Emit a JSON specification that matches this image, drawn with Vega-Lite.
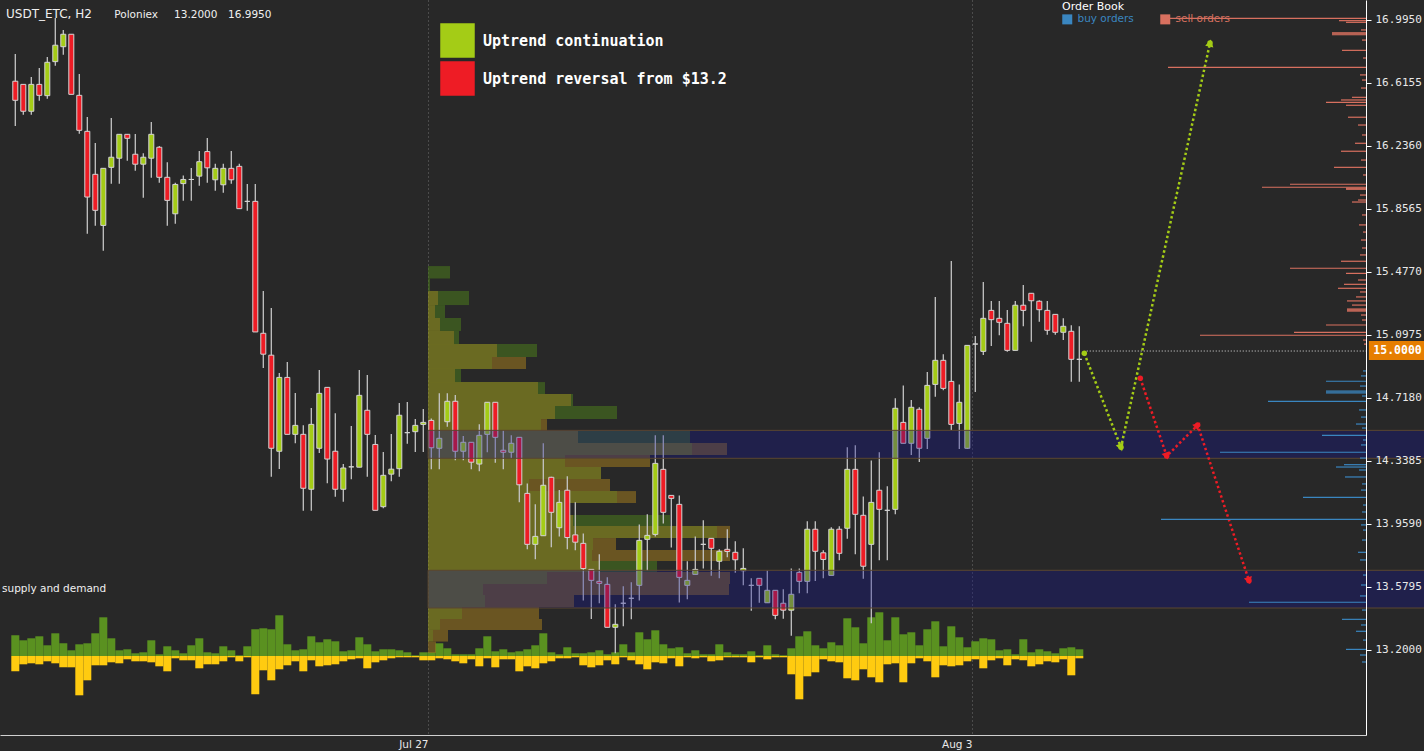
{
"$schema":"https://vega.github.io/schema/vega-lite/v6.json",
"width":1366,"height":735,
"autosize":{"type":"none"},
"padding":{"left":0,"top":0,"right":58,"bottom":16},
"background":"#282828",
"config":{"view":{"stroke":null},"text":{"font":"DejaVu Sans"},"legend":{"padding":0},"scale":{"continuousPadding":0}},
"datasets":{
"candles":[
{"k":0,"o":16.626,"h":16.790,"l":16.356,"c":16.511,"vb":20.7,"vs":15.3},
{"k":1,"o":16.607,"h":16.607,"l":16.424,"c":16.445,"vb":15.7,"vs":8.3},
{"k":2,"o":16.445,"h":16.651,"l":16.424,"c":16.607,"vb":17.7,"vs":7.3},
{"k":3,"o":16.607,"h":16.706,"l":16.509,"c":16.541,"vb":19.7,"vs":8.3},
{"k":4,"o":16.539,"h":16.772,"l":16.521,"c":16.740,"vb":10.7,"vs":5.3},
{"k":5,"o":16.744,"h":17.007,"l":16.720,"c":16.843,"vb":22.7,"vs":7.3},
{"k":6,"o":16.834,"h":16.935,"l":16.786,"c":16.909,"vb":12.7,"vs":11.3},
{"k":7,"o":16.909,"h":16.909,"l":16.547,"c":16.547,"vb":5.7,"vs":11.3},
{"k":8,"o":16.541,"h":16.669,"l":16.310,"c":16.330,"vb":11.7,"vs":39.3},
{"k":9,"o":16.324,"h":16.410,"l":15.707,"c":15.928,"vb":12.7,"vs":24.3},
{"k":10,"o":16.065,"h":16.254,"l":15.755,"c":15.848,"vb":22.7,"vs":9.3},
{"k":11,"o":15.757,"h":16.101,"l":15.605,"c":16.101,"vb":38.7,"vs":9.3},
{"k":12,"o":16.107,"h":16.404,"l":16.008,"c":16.168,"vb":17.7,"vs":6.3},
{"k":13,"o":16.162,"h":16.306,"l":16.008,"c":16.306,"vb":5.7,"vs":7.3},
{"k":14,"o":16.306,"h":16.306,"l":16.147,"c":16.282,"vb":6.7,"vs":3.3},
{"k":15,"o":16.186,"h":16.308,"l":16.087,"c":16.126,"vb":2.7,"vs":5.3},
{"k":16,"o":16.126,"h":16.192,"l":15.924,"c":16.168,"vb":3.7,"vs":5.3},
{"k":17,"o":16.162,"h":16.380,"l":16.045,"c":16.306,"vb":15.7,"vs":6.3},
{"k":18,"o":16.228,"h":16.236,"l":16.014,"c":16.047,"vb":1.7,"vs":10.3},
{"k":19,"o":16.047,"h":16.137,"l":15.755,"c":15.908,"vb":9.7,"vs":15.3},
{"k":20,"o":15.827,"h":16.014,"l":15.767,"c":16.004,"vb":5.7,"vs":2.3},
{"k":21,"o":16.009,"h":16.058,"l":15.906,"c":16.034,"vb":2.7,"vs":4.3},
{"k":22,"o":16.034,"h":16.103,"l":15.906,"c":16.034,"vb":10.7,"vs":4.3},
{"k":23,"o":16.054,"h":16.206,"l":15.996,"c":16.141,"vb":17.7,"vs":12.3},
{"k":24,"o":16.202,"h":16.284,"l":16.014,"c":16.104,"vb":3.7,"vs":8.3},
{"k":25,"o":16.032,"h":16.129,"l":15.966,"c":16.101,"vb":2.7,"vs":8.3},
{"k":26,"o":16.002,"h":16.129,"l":15.954,"c":16.101,"vb":9.7,"vs":5.3},
{"k":27,"o":16.101,"h":16.206,"l":16.008,"c":16.032,"vb":5.7,"vs":1.3},
{"k":28,"o":16.113,"h":16.129,"l":15.858,"c":15.858,"vb":0.7,"vs":5.3},
{"k":29,"o":15.902,"h":16.006,"l":15.845,"c":15.902,"vb":9.7,"vs":1.3},
{"k":30,"o":15.902,"h":16.006,"l":15.115,"c":15.115,"vb":26.7,"vs":38.3},
{"k":31,"o":15.107,"h":15.362,"l":14.898,"c":14.981,"vb":27.7,"vs":14.3},
{"k":32,"o":14.975,"h":15.259,"l":14.243,"c":14.414,"vb":26.7,"vs":24.3},
{"k":33,"o":14.396,"h":14.867,"l":14.289,"c":14.841,"vb":40.7,"vs":13.3},
{"k":34,"o":14.841,"h":14.934,"l":14.498,"c":14.498,"vb":11.7,"vs":9.3},
{"k":35,"o":14.498,"h":14.747,"l":14.444,"c":14.552,"vb":5.7,"vs":5.3},
{"k":36,"o":14.498,"h":14.552,"l":14.038,"c":14.173,"vb":6.7,"vs":15.3},
{"k":37,"o":14.167,"h":14.657,"l":14.038,"c":14.558,"vb":19.7,"vs":4.3},
{"k":38,"o":14.414,"h":14.885,"l":14.385,"c":14.745,"vb":13.7,"vs":10.3},
{"k":39,"o":14.781,"h":14.781,"l":14.203,"c":14.349,"vb":16.7,"vs":9.3},
{"k":40,"o":14.396,"h":14.625,"l":14.122,"c":14.167,"vb":14.7,"vs":8.3},
{"k":41,"o":14.167,"h":14.319,"l":14.092,"c":14.295,"vb":4.7,"vs":5.3},
{"k":42,"o":14.302,"h":14.548,"l":14.227,"c":14.302,"vb":5.7,"vs":3.3},
{"k":43,"o":14.300,"h":14.885,"l":14.300,"c":14.733,"vb":18.7,"vs":2.3},
{"k":44,"o":14.643,"h":14.855,"l":14.243,"c":14.498,"vb":11.7,"vs":12.3},
{"k":45,"o":14.437,"h":14.494,"l":14.040,"c":14.040,"vb":4.7,"vs":6.3},
{"k":46,"o":14.062,"h":14.391,"l":14.052,"c":14.251,"vb":6.7,"vs":4.3},
{"k":47,"o":14.258,"h":14.500,"l":14.215,"c":14.288,"vb":6.7,"vs":2.3},
{"k":48,"o":14.291,"h":14.687,"l":14.243,"c":14.613,"vb":5.7,"vs":1.3},
{"k":49,"o":14.508,"h":14.693,"l":14.441,"c":14.508,"vb":3.7,"vs":1.3},
{"k":50,"o":14.514,"h":14.590,"l":14.391,"c":14.552,"vb":0.7,"vs":1.3},
{"k":51,"o":14.558,"h":14.651,"l":14.391,"c":14.570,"vb":3.7,"vs":4.3},
{"k":52,"o":14.582,"h":14.594,"l":14.288,"c":14.417,"vb":3.7,"vs":4.3},
{"k":53,"o":14.414,"h":14.745,"l":14.288,"c":14.474,"vb":12.7,"vs":2.3},
{"k":54,"o":14.574,"h":14.745,"l":14.544,"c":14.697,"vb":7.7,"vs":3.3},
{"k":55,"o":14.697,"h":14.735,"l":14.342,"c":14.396,"vb":1.7,"vs":5.3},
{"k":56,"o":14.396,"h":14.488,"l":14.342,"c":14.450,"vb":1.7,"vs":7.3},
{"k":57,"o":14.450,"h":14.450,"l":14.288,"c":14.330,"vb":1.7,"vs":3.3},
{"k":58,"o":14.319,"h":14.558,"l":14.276,"c":14.492,"vb":7.7,"vs":10.3},
{"k":59,"o":14.498,"h":14.691,"l":14.390,"c":14.691,"vb":19.7,"vs":2.3},
{"k":60,"o":14.691,"h":14.691,"l":14.327,"c":14.480,"vb":4.7,"vs":11.3},
{"k":61,"o":14.402,"h":14.522,"l":14.288,"c":14.390,"vb":6.7,"vs":3.3},
{"k":62,"o":14.390,"h":14.492,"l":14.354,"c":14.444,"vb":3.7,"vs":3.3},
{"k":63,"o":14.480,"h":14.480,"l":14.088,"c":14.194,"vb":4.7,"vs":15.3},
{"k":64,"o":14.142,"h":14.201,"l":13.805,"c":13.835,"vb":6.7,"vs":10.3},
{"k":65,"o":13.835,"h":14.076,"l":13.745,"c":13.883,"vb":10.7,"vs":12.3},
{"k":66,"o":13.887,"h":14.444,"l":13.887,"c":14.191,"vb":22.7,"vs":7.3},
{"k":67,"o":14.239,"h":14.243,"l":13.818,"c":14.028,"vb":3.7,"vs":5.3},
{"k":68,"o":13.935,"h":14.162,"l":13.883,"c":14.088,"vb":1.7,"vs":2.3},
{"k":69,"o":14.161,"h":14.246,"l":13.805,"c":13.876,"vb":8.7,"vs":2.3},
{"k":70,"o":13.892,"h":14.089,"l":13.800,"c":13.848,"vb":2.7,"vs":1.3},
{"k":71,"o":13.841,"h":13.901,"l":13.496,"c":13.689,"vb":2.7,"vs":9.3},
{"k":72,"o":13.684,"h":13.684,"l":13.385,"c":13.618,"vb":3.7,"vs":11.3},
{"k":73,"o":13.612,"h":13.775,"l":13.480,"c":13.600,"vb":5.7,"vs":9.3},
{"k":74,"o":13.594,"h":13.636,"l":13.335,"c":13.335,"vb":1.7,"vs":4.3},
{"k":75,"o":13.335,"h":13.474,"l":13.178,"c":13.353,"vb":3.7,"vs":8.3},
{"k":76,"o":13.480,"h":13.582,"l":13.341,"c":13.480,"vb":11.7,"vs":1.3},
{"k":77,"o":13.510,"h":13.606,"l":13.383,"c":13.510,"vb":3.7,"vs":4.3},
{"k":78,"o":13.588,"h":13.955,"l":13.497,"c":13.859,"vb":23.7,"vs":8.3},
{"k":79,"o":13.865,"h":14.016,"l":13.678,"c":13.889,"vb":16.7,"vs":13.3},
{"k":80,"o":13.895,"h":14.492,"l":13.883,"c":14.323,"vb":25.7,"vs":6.3},
{"k":81,"o":14.287,"h":14.492,"l":13.961,"c":14.028,"vb":11.7,"vs":7.3},
{"k":82,"o":14.130,"h":14.130,"l":13.816,"c":14.112,"vb":7.7,"vs":2.3},
{"k":83,"o":14.076,"h":14.130,"l":13.485,"c":13.636,"vb":8.7,"vs":10.3},
{"k":84,"o":13.588,"h":13.733,"l":13.504,"c":13.618,"vb":2.7,"vs":1.3},
{"k":85,"o":13.654,"h":13.883,"l":13.654,"c":13.684,"vb":5.7,"vs":2.3},
{"k":86,"o":13.835,"h":13.980,"l":13.690,"c":13.835,"vb":1.7,"vs":1.3},
{"k":87,"o":13.871,"h":13.871,"l":13.646,"c":13.811,"vb":1.7,"vs":5.3},
{"k":88,"o":13.733,"h":13.805,"l":13.630,"c":13.793,"vb":11.7,"vs":4.3},
{"k":89,"o":13.805,"h":13.926,"l":13.757,"c":13.792,"vb":3.7,"vs":1.3},
{"k":90,"o":13.787,"h":13.853,"l":13.664,"c":13.742,"vb":1.7,"vs":1.3},
{"k":91,"o":13.676,"h":13.811,"l":13.588,"c":13.690,"vb":1.7,"vs":1.3},
{"k":92,"o":13.588,"h":13.630,"l":13.435,"c":13.588,"vb":4.7,"vs":6.3},
{"k":93,"o":13.630,"h":13.630,"l":13.483,"c":13.588,"vb":0.7,"vs":1.3},
{"k":94,"o":13.483,"h":13.678,"l":13.483,"c":13.558,"vb":10.7,"vs":3.3},
{"k":95,"o":13.558,"h":13.558,"l":13.383,"c":13.407,"vb":1.7,"vs":1.3},
{"k":96,"o":13.480,"h":13.564,"l":13.387,"c":13.438,"vb":0.7,"vs":1.3},
{"k":97,"o":13.438,"h":13.690,"l":13.284,"c":13.534,"vb":7.7,"vs":18.3},
{"k":98,"o":13.666,"h":13.690,"l":13.540,"c":13.612,"vb":19.7,"vs":43.3},
{"k":99,"o":13.612,"h":13.974,"l":13.540,"c":13.926,"vb":24.7,"vs":20.3},
{"k":100,"o":13.926,"h":13.974,"l":13.614,"c":13.793,"vb":10.7,"vs":16.3},
{"k":101,"o":13.784,"h":13.799,"l":13.630,"c":13.744,"vb":7.7,"vs":3.3},
{"k":102,"o":13.648,"h":13.938,"l":13.648,"c":13.926,"vb":13.7,"vs":5.3},
{"k":103,"o":13.926,"h":13.944,"l":13.739,"c":13.781,"vb":10.7,"vs":6.3},
{"k":104,"o":13.932,"h":14.420,"l":13.869,"c":14.287,"vb":37.7,"vs":22.3},
{"k":105,"o":14.287,"h":14.432,"l":13.775,"c":14.016,"vb":28.7,"vs":24.3},
{"k":106,"o":14.010,"h":14.124,"l":13.628,"c":13.703,"vb":12.7,"vs":13.3},
{"k":107,"o":13.835,"h":14.341,"l":13.359,"c":14.088,"vb":38.7,"vs":21.3},
{"k":108,"o":14.161,"h":14.390,"l":13.739,"c":14.046,"vb":43.7,"vs":26.3},
{"k":109,"o":14.040,"h":14.185,"l":13.739,"c":14.040,"vb":15.7,"vs":8.3},
{"k":110,"o":14.046,"h":14.715,"l":14.016,"c":14.655,"vb":38.7,"vs":7.3},
{"k":111,"o":14.570,"h":14.793,"l":14.444,"c":14.444,"vb":21.7,"vs":26.3},
{"k":112,"o":14.444,"h":14.705,"l":14.373,"c":14.661,"vb":23.7,"vs":7.3},
{"k":113,"o":14.649,"h":14.661,"l":14.331,"c":14.414,"vb":10.7,"vs":2.3},
{"k":114,"o":14.474,"h":14.873,"l":14.409,"c":14.793,"vb":26.7,"vs":5.3},
{"k":115,"o":14.799,"h":15.326,"l":14.724,"c":14.944,"vb":34.7,"vs":21.3},
{"k":116,"o":14.944,"h":14.980,"l":14.763,"c":14.775,"vb":9.7,"vs":9.3},
{"k":117,"o":14.817,"h":15.543,"l":14.524,"c":14.558,"vb":29.7,"vs":10.3},
{"k":118,"o":14.564,"h":14.799,"l":14.409,"c":14.691,"vb":18.7,"vs":9.3},
{"k":119,"o":14.414,"h":15.034,"l":14.409,"c":15.034,"vb":8.7,"vs":5.3},
{"k":120,"o":15.042,"h":15.090,"l":14.753,"c":15.042,"vb":14.7,"vs":3.3},
{"k":121,"o":14.998,"h":15.416,"l":14.976,"c":15.197,"vb":17.7,"vs":12.3},
{"k":122,"o":15.245,"h":15.301,"l":15.030,"c":15.189,"vb":16.7,"vs":4.3},
{"k":123,"o":15.197,"h":15.301,"l":15.095,"c":15.173,"vb":5.7,"vs":2.3},
{"k":124,"o":15.167,"h":15.247,"l":14.996,"c":15.004,"vb":6.7,"vs":9.3},
{"k":125,"o":15.004,"h":15.301,"l":15.004,"c":15.276,"vb":1.7,"vs":3.3},
{"k":126,"o":15.276,"h":15.398,"l":15.149,"c":15.245,"vb":16.7,"vs":4.3},
{"k":127,"o":15.348,"h":15.348,"l":15.056,"c":15.303,"vb":3.7,"vs":10.3},
{"k":128,"o":15.300,"h":15.306,"l":15.177,"c":15.249,"vb":6.7,"vs":8.3},
{"k":129,"o":15.245,"h":15.301,"l":15.098,"c":15.125,"vb":4.7,"vs":5.3},
{"k":130,"o":15.221,"h":15.221,"l":15.098,"c":15.113,"vb":2.7,"vs":6.3},
{"k":131,"o":15.113,"h":15.197,"l":15.066,"c":15.149,"vb":7.7,"vs":3.3},
{"k":132,"o":15.119,"h":15.155,"l":14.815,"c":14.950,"vb":8.7,"vs":19.3},
{"k":133,"o":14.950,"h":15.149,"l":14.815,"c":14.950,"vb":6.7,"vs":2.3}
],
"profile":[
{"lo":15.437,"hi":15.512,"up":0,"tot":22,"kind":"g"},
{"lo":15.362,"hi":15.437,"up":0,"tot":2,"kind":"g"},
{"lo":15.277,"hi":15.362,"up":10,"tot":41,"kind":"g"},
{"lo":15.199,"hi":15.277,"up":7,"tot":17,"kind":"g"},
{"lo":15.121,"hi":15.199,"up":12,"tot":33,"kind":"g"},
{"lo":15.042,"hi":15.121,"up":26,"tot":31,"kind":"g"},
{"lo":14.964,"hi":15.042,"up":69,"tot":109,"kind":"g"},
{"lo":14.892,"hi":14.964,"up":64,"tot":98,"kind":"b"},
{"lo":14.813,"hi":14.892,"up":27,"tot":33,"kind":"g"},
{"lo":14.741,"hi":14.813,"up":110,"tot":117,"kind":"g"},
{"lo":14.669,"hi":14.741,"up":143,"tot":145,"kind":"g"},
{"lo":14.590,"hi":14.669,"up":127,"tot":189,"kind":"g"},
{"lo":14.518,"hi":14.590,"up":113,"tot":119,"kind":"b"},
{"lo":14.446,"hi":14.518,"up":150,"tot":262,"kind":"g"},
{"lo":14.373,"hi":14.446,"up":264,"tot":299,"kind":"b"},
{"lo":14.301,"hi":14.373,"up":137,"tot":222,"kind":"b"},
{"lo":14.229,"hi":14.301,"up":173,"tot":173,"kind":"b"},
{"lo":14.156,"hi":14.229,"up":101,"tot":182,"kind":"b"},
{"lo":14.084,"hi":14.156,"up":189,"tot":208,"kind":"b"},
{"lo":14.012,"hi":14.084,"up":140,"tot":140,"kind":"g"},
{"lo":13.946,"hi":14.012,"up":145,"tot":242,"kind":"g"},
{"lo":13.873,"hi":13.946,"up":289,"tot":302,"kind":"b"},
{"lo":13.801,"hi":13.873,"up":165,"tot":188,"kind":"b"},
{"lo":13.735,"hi":13.801,"up":164,"tot":302,"kind":"b"},
{"lo":13.668,"hi":13.735,"up":172,"tot":229,"kind":"g"},
{"lo":13.596,"hi":13.668,"up":119,"tot":302,"kind":"b"},
{"lo":13.530,"hi":13.596,"up":55,"tot":301,"kind":"b"},
{"lo":13.457,"hi":13.530,"up":57,"tot":146,"kind":"b"},
{"lo":13.385,"hi":13.457,"up":34,"tot":111,"kind":"b"},
{"lo":13.319,"hi":13.385,"up":12,"tot":114,"kind":"b"},
{"lo":13.249,"hi":13.319,"up":5,"tot":20,"kind":"b"},
{"lo":13.180,"hi":13.249,"up":0,"tot":8,"kind":"b"}
],
"zones":[{"lo":14.3535,"hi":14.522},{"lo":13.4513,"hi":13.6785}],
"paths":[
{"scenario":"Uptrend continuation","step":0,"k":133.625,"p":14.986},
{"scenario":"Uptrend continuation","step":1,"k":138.21,"p":14.420},
{"scenario":"Uptrend continuation","step":2,"k":149.34,"p":16.856},
{"scenario":"Uptrend reversal from $13.2","step":0,"k":140.625,"p":14.836},
{"scenario":"Uptrend reversal from $13.2","step":1,"k":143.925,"p":14.367},
{"scenario":"Uptrend reversal from $13.2","step":2,"k":147.8,"p":14.554},
{"scenario":"Uptrend reversal from $13.2","step":3,"k":154.21,"p":13.616}
],
"book":[
{"side":"sell orders","price":17.005,"amount":203},{"side":"sell orders","price":16.991,"amount":27},{"side":"sell orders","price":16.981,"amount":20},
{"side":"sell orders","price":16.918,"amount":34},{"side":"sell orders","price":16.912,"amount":34},{"side":"sell orders","price":16.906,"amount":34},
{"side":"sell orders","price":16.812,"amount":24},{"side":"sell orders","price":16.710,"amount":198},{"side":"sell orders","price":16.529,"amount":14},
{"side":"sell orders","price":16.513,"amount":25},{"side":"sell orders","price":16.499,"amount":40},{"side":"sell orders","price":16.481,"amount":20},
{"side":"sell orders","price":16.409,"amount":18},{"side":"sell orders","price":16.252,"amount":11},{"side":"sell orders","price":16.204,"amount":25},
{"side":"sell orders","price":16.107,"amount":32},{"side":"sell orders","price":16.005,"amount":76},{"side":"sell orders","price":15.987,"amount":104},
{"side":"sell orders","price":15.981,"amount":20},{"side":"sell orders","price":15.975,"amount":20},{"side":"sell orders","price":15.898,"amount":14},
{"side":"sell orders","price":15.541,"amount":25},{"side":"sell orders","price":15.499,"amount":76},{"side":"sell orders","price":15.468,"amount":20},
{"side":"sell orders","price":15.402,"amount":22},{"side":"sell orders","price":15.378,"amount":28},{"side":"sell orders","price":15.302,"amount":19},
{"side":"sell orders","price":15.253,"amount":19},{"side":"sell orders","price":15.247,"amount":19},{"side":"sell orders","price":15.241,"amount":19},
{"side":"sell orders","price":15.157,"amount":40},{"side":"sell orders","price":15.113,"amount":72},{"side":"sell orders","price":15.095,"amount":166},
{"side":"sell orders","price":16.935,"amount":5},{"side":"sell orders","price":16.874,"amount":4},{"side":"sell orders","price":16.766,"amount":3},
{"side":"sell orders","price":16.664,"amount":6},{"side":"sell orders","price":16.633,"amount":4},{"side":"sell orders","price":16.585,"amount":5},
{"side":"sell orders","price":16.362,"amount":8},{"side":"sell orders","price":16.302,"amount":4},{"side":"sell orders","price":16.151,"amount":5},
{"side":"sell orders","price":16.061,"amount":3},{"side":"sell orders","price":15.940,"amount":6},{"side":"sell orders","price":15.910,"amount":8},
{"side":"sell orders","price":15.820,"amount":4},{"side":"sell orders","price":15.760,"amount":7},{"side":"sell orders","price":15.717,"amount":3},
{"side":"sell orders","price":15.669,"amount":5},{"side":"sell orders","price":15.621,"amount":4},{"side":"sell orders","price":15.579,"amount":6},
{"side":"sell orders","price":15.428,"amount":8},{"side":"sell orders","price":15.356,"amount":6},{"side":"sell orders","price":15.326,"amount":10},
{"side":"sell orders","price":15.277,"amount":14},{"side":"sell orders","price":15.217,"amount":5},{"side":"sell orders","price":15.187,"amount":4},
{"side":"sell orders","price":15.066,"amount":3},{"side":"sell orders","price":15.042,"amount":2},
{"side":"buy orders","price":14.818,"amount":40},{"side":"buy orders","price":14.759,"amount":40},{"side":"buy orders","price":14.753,"amount":40},
{"side":"buy orders","price":14.747,"amount":40},{"side":"buy orders","price":14.697,"amount":98},{"side":"buy orders","price":14.492,"amount":44},
{"side":"buy orders","price":14.390,"amount":146},{"side":"buy orders","price":14.315,"amount":22},{"side":"buy orders","price":14.301,"amount":30},
{"side":"buy orders","price":14.241,"amount":21},{"side":"buy orders","price":14.118,"amount":63},{"side":"buy orders","price":13.986,"amount":205},
{"side":"buy orders","price":13.787,"amount":8},{"side":"buy orders","price":13.486,"amount":117},{"side":"buy orders","price":13.383,"amount":24},
{"side":"buy orders","price":13.311,"amount":10},{"side":"buy orders","price":13.202,"amount":20},
{"side":"buy orders","price":14.880,"amount":3},{"side":"buy orders","price":14.850,"amount":5},{"side":"buy orders","price":14.789,"amount":6},
{"side":"buy orders","price":14.729,"amount":4},{"side":"buy orders","price":14.645,"amount":7},{"side":"buy orders","price":14.602,"amount":5},
{"side":"buy orders","price":14.560,"amount":10},{"side":"buy orders","price":14.536,"amount":4},{"side":"buy orders","price":14.464,"amount":3},
{"side":"buy orders","price":14.434,"amount":5},{"side":"buy orders","price":14.355,"amount":6},{"side":"buy orders","price":14.283,"amount":7},
{"side":"buy orders","price":14.199,"amount":4},{"side":"buy orders","price":14.162,"amount":5},{"side":"buy orders","price":14.072,"amount":3},
{"side":"buy orders","price":14.030,"amount":4},{"side":"buy orders","price":13.952,"amount":5},{"side":"buy orders","price":13.921,"amount":3},
{"side":"buy orders","price":13.861,"amount":4},{"side":"buy orders","price":13.741,"amount":6},{"side":"buy orders","price":13.650,"amount":3},
{"side":"buy orders","price":13.590,"amount":5},{"side":"buy orders","price":13.524,"amount":6},{"side":"buy orders","price":13.439,"amount":4},
{"side":"buy orders","price":13.349,"amount":5},{"side":"buy orders","price":13.258,"amount":3},{"side":"buy orders","price":13.168,"amount":6},
{"side":"buy orders","price":13.126,"amount":4}
]
},
"layer":[
{"data":{"name":"candles"},
 "mark":{"type":"bar","width":8,"color":"#5a9120","orient":"vertical"},
 "encoding":{
  "x":{"field":"k","type":"quantitative","scale":{"domain":[-1.9125,168.8375],"nice":false,"zero":false,"padding":0},"axis":null},
  "y":{"field":"vb","type":"quantitative","scale":{"domain":[-79,656],"nice":false,"zero":false,"padding":0},"axis":null},
  "y2":{"datum":0}}},
{"data":{"name":"candles"},
 "mark":{"type":"bar","width":8,"color":"#ffcb10","orient":"vertical"},
 "encoding":{
  "x":{"field":"k","type":"quantitative","scale":{"domain":[-1.9125,168.8375],"nice":false,"zero":false,"padding":0},"axis":null},
  "y":{"field":"vs","type":"quantitative","scale":{"domain":[-656,79],"reverse":true,"nice":false,"zero":false,"padding":0},"axis":null},
  "y2":{"datum":0}}},
{"data":{"name":"profile"},
 "layer":[
  {"mark":{"type":"rect","fill":"#a0a01e","fillOpacity":0.55},
   "encoding":{
    "x":{"field":"up","type":"quantitative","scale":{"domain":[-428,938],"nice":false,"zero":false,"padding":0},"axis":null},
    "x2":{"datum":0},
    "y":{"field":"lo","type":"quantitative","scale":{"domain":[12.686,17.1155],"nice":false,"zero":false,"padding":0},"axis":null},
    "y2":{"field":"hi"}}},
  {"mark":{"type":"rect","fillOpacity":0.55},
   "encoding":{
    "x":{"field":"up","type":"quantitative","scale":{"domain":[-428,938],"nice":false,"zero":false,"padding":0},"axis":null},
    "x2":{"field":"tot"},
    "y":{"field":"lo","type":"quantitative","scale":{"domain":[12.686,17.1155],"nice":false,"zero":false,"padding":0},"axis":null},
    "y2":{"field":"hi"},
    "fill":{"condition":{"test":"datum.kind == 'g'","value":"#4a7a1c"},"value":"#a07a1e"}}}
 ]},
{"layer":[
  {"data":{"name":"candles"},
   "mark":{"type":"rule","color":"#c4c4c4","strokeWidth":1.3},
   "encoding":{
    "x":{"field":"k","type":"quantitative","scale":{"domain":[-1.9125,168.8375],"nice":false,"zero":false,"padding":0},
      "axis":{"orient":"bottom","values":[51.5875,119.5875],"labelExpr":"datum.value < 80 ? 'Jul 27' : 'Aug 3'","title":null,"grid":true,"gridColor":"#707070","gridDash":[1,3],"gridWidth":1,"domain":true,"domainColor":"#d0d0d0","ticks":false,"labelAlign":"right","labelColor":"#e8e8e8","labelFont":"DejaVu Sans","labelFontSize":10.5,"labelPadding":4}},
    "y":{"field":"l","type":"quantitative","scale":{"domain":[12.686,17.1155],"nice":false,"zero":false,"padding":0},
      "axis":{"orient":"right","values":[13.2,13.5795,13.959,14.3385,14.718,15.0975,15.477,15.8565,16.236,16.6155,16.995],"format":".4f","title":null,"grid":false,"domainColor":"#ffffff","domainWidth":1,"tickColor":"#ffffff","tickSize":5,"labelColor":"#e8e8e8","labelFont":"DejaVu Sans Mono","labelFontSize":11,"labelPadding":4,"labelOverlap":false,"labelFlush":false,"zindex":1}},
    "y2":{"field":"h"}}},
  {"data":{"name":"candles"},
   "mark":{"type":"bar","width":5,"stroke":"#d4d4d4","strokeWidth":1,"orient":"vertical"},
   "encoding":{
    "x":{"field":"k","type":"quantitative","scale":{"domain":[-1.9125,168.8375],"nice":false,"zero":false,"padding":0}},
    "y":{"field":"o","type":"quantitative","scale":{"domain":[12.686,17.1155],"nice":false,"zero":false,"padding":0}},
    "y2":{"field":"c"},
    "fill":{"condition":{"test":"datum.c >= datum.o","value":"#a4cc16"},"value":"#ee1c25"}}},
  {"data":{"name":"zones"},
   "mark":{"type":"rect","fill":"#0f0f96","fillOpacity":0.32,"stroke":"#5a4630","strokeWidth":1},
   "encoding":{
    "x":{"datum":51.6,"type":"quantitative","scale":{"domain":[-1.9125,168.8375],"nice":false,"zero":false,"padding":0}},
    "x2":{"datum":176.2},
    "y":{"field":"lo","type":"quantitative","scale":{"domain":[12.686,17.1155],"nice":false,"zero":false,"padding":0}},
    "y2":{"field":"hi"}}},
  {"data":{"values":[{}]},
   "mark":{"type":"rule","color":"#e0e0e0","strokeDash":[1,2],"strokeWidth":1},
   "encoding":{
    "x":{"datum":133.93,"type":"quantitative","scale":{"domain":[-1.9125,168.8375],"nice":false,"zero":false,"padding":0}},
    "x2":{"datum":168.84},
    "y":{"datum":15.0,"type":"quantitative","scale":{"domain":[12.686,17.1155],"nice":false,"zero":false,"padding":0}}}},
  {"data":{"name":"paths"},
   "mark":{"type":"line","strokeDash":[2.5,2.5],"strokeWidth":2.5},
   "encoding":{
    "x":{"field":"k","type":"quantitative","scale":{"domain":[-1.9125,168.8375],"nice":false,"zero":false,"padding":0}},
    "y":{"field":"p","type":"quantitative","scale":{"domain":[12.686,17.1155],"nice":false,"zero":false,"padding":0}},
    "order":{"field":"step","type":"quantitative"},
    "detail":{"field":"scenario","type":"nominal"},
    "stroke":{"condition":{"test":"datum.scenario == 'Uptrend continuation'","value":"#a4cc16"},"value":"#ee1c25"}}},
  {"data":{"name":"paths"},
   "mark":{"type":"point","filled":true,"opacity":1,"size":30,"shape":"circle"},
   "encoding":{
    "x":{"field":"k","type":"quantitative","scale":{"domain":[-1.9125,168.8375],"nice":false,"zero":false,"padding":0}},
    "y":{"field":"p","type":"quantitative","scale":{"domain":[12.686,17.1155],"nice":false,"zero":false,"padding":0}},
    "fill":{"field":"scenario","type":"nominal","scale":{"domain":["Uptrend continuation","Uptrend reversal from $13.2"],"range":["#a4cc16","#ee1c25"]},
      "legend":{"title":null,"orient":"none","legendX":440,"legendY":23,"symbolType":"square","symbolSize":1190,"symbolStrokeWidth":0,"symbolOpacity":1,"labelFont":"DejaVu Sans Mono","labelFontWeight":"bold","labelFontSize":15,"labelColor":"#ffffff","labelOffset":8,"rowPadding":3,"labelLimit":400}}}},
  {"data":{"name":"paths"},
   "transform":[{"filter":"datum.step == 1 && datum.scenario == 'Uptrend continuation'"}],
   "mark":{"type":"point","shape":"triangle-up","filled":true,"opacity":1,"size":70,"angle":158,"color":"#a4cc16"},
   "encoding":{"x":{"field":"k","type":"quantitative","scale":{"domain":[-1.9125,168.8375],"nice":false,"zero":false,"padding":0}},"y":{"field":"p","type":"quantitative","scale":{"domain":[12.686,17.1155],"nice":false,"zero":false,"padding":0}}}},
  {"data":{"name":"paths"},
   "transform":[{"filter":"datum.step == 2 && datum.scenario == 'Uptrend continuation'"}],
   "mark":{"type":"point","shape":"triangle-up","filled":true,"opacity":1,"size":70,"angle":12,"color":"#a4cc16"},
   "encoding":{"x":{"field":"k","type":"quantitative","scale":{"domain":[-1.9125,168.8375],"nice":false,"zero":false,"padding":0}},"y":{"field":"p","type":"quantitative","scale":{"domain":[12.686,17.1155],"nice":false,"zero":false,"padding":0}}}},
  {"data":{"name":"paths"},
   "transform":[{"filter":"datum.step == 1 && datum.scenario != 'Uptrend continuation'"}],
   "mark":{"type":"point","shape":"triangle-up","filled":true,"opacity":1,"size":70,"angle":161,"color":"#ee1c25"},
   "encoding":{"x":{"field":"k","type":"quantitative","scale":{"domain":[-1.9125,168.8375],"nice":false,"zero":false,"padding":0}},"y":{"field":"p","type":"quantitative","scale":{"domain":[12.686,17.1155],"nice":false,"zero":false,"padding":0}}}},
  {"data":{"name":"paths"},
   "transform":[{"filter":"datum.step == 2 && datum.scenario != 'Uptrend continuation'"}],
   "mark":{"type":"point","shape":"triangle-up","filled":true,"opacity":1,"size":70,"angle":45,"color":"#ee1c25"},
   "encoding":{"x":{"field":"k","type":"quantitative","scale":{"domain":[-1.9125,168.8375],"nice":false,"zero":false,"padding":0}},"y":{"field":"p","type":"quantitative","scale":{"domain":[12.686,17.1155],"nice":false,"zero":false,"padding":0}}}},
  {"data":{"name":"paths"},
   "transform":[{"filter":"datum.step == 3 && datum.scenario != 'Uptrend continuation'"}],
   "mark":{"type":"point","shape":"triangle-up","filled":true,"opacity":1,"size":70,"angle":162,"color":"#ee1c25"},
   "encoding":{"x":{"field":"k","type":"quantitative","scale":{"domain":[-1.9125,168.8375],"nice":false,"zero":false,"padding":0}},"y":{"field":"p","type":"quantitative","scale":{"domain":[12.686,17.1155],"nice":false,"zero":false,"padding":0}}}},
  {"data":{"values":[{}]},
   "mark":{"type":"text","align":"left","baseline":"alphabetic","fontSize":12,"color":"#f0f0f0","font":"DejaVu Sans"},
   "encoding":{"x":{"datum":-1.1625,"type":"quantitative","scale":{"domain":[-1.9125,168.8375],"nice":false,"zero":false,"padding":0}},"y":{"datum":17.005,"type":"quantitative","scale":{"domain":[12.686,17.1155],"nice":false,"zero":false,"padding":0}},"text":{"value":"USDT_ETC, H2"}}},
  {"data":{"values":[{}]},
   "mark":{"type":"text","align":"left","baseline":"alphabetic","fontSize":10.5,"color":"#f0f0f0","font":"DejaVu Sans"},
   "encoding":{"x":{"datum":12.375,"type":"quantitative","scale":{"domain":[-1.9125,168.8375],"nice":false,"zero":false,"padding":0}},"y":{"datum":17.008,"type":"quantitative","scale":{"domain":[12.686,17.1155],"nice":false,"zero":false,"padding":0}},"text":{"value":"Poloniex"}}},
  {"data":{"values":[{}]},
   "mark":{"type":"text","align":"left","baseline":"alphabetic","fontSize":10.5,"color":"#f0f0f0","font":"DejaVu Sans"},
   "encoding":{"x":{"datum":19.84,"type":"quantitative","scale":{"domain":[-1.9125,168.8375],"nice":false,"zero":false,"padding":0}},"y":{"datum":17.008,"type":"quantitative","scale":{"domain":[12.686,17.1155],"nice":false,"zero":false,"padding":0}},"text":{"value":"13.2000"}}},
  {"data":{"values":[{}]},
   "mark":{"type":"text","align":"left","baseline":"alphabetic","fontSize":10.5,"color":"#f0f0f0","font":"DejaVu Sans"},
   "encoding":{"x":{"datum":26.59,"type":"quantitative","scale":{"domain":[-1.9125,168.8375],"nice":false,"zero":false,"padding":0}},"y":{"datum":17.008,"type":"quantitative","scale":{"domain":[12.686,17.1155],"nice":false,"zero":false,"padding":0}},"text":{"value":"16.9950"}}},
  {"data":{"values":[{}]},
   "mark":{"type":"text","align":"left","baseline":"alphabetic","fontSize":10.5,"color":"#f0f0f0","font":"DejaVu Sans"},
   "encoding":{"x":{"datum":-1.66,"type":"quantitative","scale":{"domain":[-1.9125,168.8375],"nice":false,"zero":false,"padding":0}},"y":{"datum":13.548,"type":"quantitative","scale":{"domain":[12.686,17.1155],"nice":false,"zero":false,"padding":0}},"text":{"value":"supply and demand"}}},
  {"data":{"values":[{}]},
   "mark":{"type":"rect","fill":"#e67e00"},
   "encoding":{"x":{"datum":169.2,"type":"quantitative","scale":{"domain":[-1.9125,168.8375],"nice":false,"zero":false,"padding":0}},"x2":{"datum":176.2},"y":{"datum":15.06,"type":"quantitative","scale":{"domain":[12.686,17.1155],"nice":false,"zero":false,"padding":0}},"y2":{"datum":14.946}}},
  {"data":{"values":[{}]},
   "mark":{"type":"text","align":"left","baseline":"middle","fontSize":11.5,"fontWeight":"bold","color":"#ffffff","font":"DejaVu Sans Mono"},
   "encoding":{"x":{"datum":169.75,"type":"quantitative","scale":{"domain":[-1.9125,168.8375],"nice":false,"zero":false,"padding":0}},"y":{"datum":15.002,"type":"quantitative","scale":{"domain":[12.686,17.1155],"nice":false,"zero":false,"padding":0}},"text":{"value":"15.0000"}}}
 ]},
{"data":{"name":"book"},
 "mark":{"type":"rule","strokeWidth":1.2},
 "encoding":{
  "x":{"field":"amount","type":"quantitative","scale":{"domain":[0,1366],"reverse":true,"nice":false,"zero":false,"padding":0},"axis":null},
  "x2":{"datum":0},
  "y":{"field":"price","type":"quantitative","scale":{"domain":[12.686,17.1155],"nice":false,"zero":false,"padding":0},"axis":null},
  "color":{"field":"side","type":"nominal","scale":{"domain":["buy orders","sell orders"],"range":["#3a86c0","#d8705f"]},
   "legend":{"title":"Order Book","orient":"none","legendX":1062,"legendY":1,"direction":"horizontal","columns":2,"columnPadding":26,"symbolType":"square","symbolSize":100,"symbolStrokeWidth":0,"labelFont":"DejaVu Sans","labelFontSize":10.5,"labelOffset":5,"titleColor":"#ffffff","titleFont":"DejaVu Sans","titleFontSize":11,"titleFontWeight":"normal","titlePadding":2,"labelColor":"#3a86c0",
    "encode":{"labels":{"update":{"fill":{"signal":"datum.value == 'buy orders' ? '#3a86c0' : '#d8705f'"}}},"symbols":{"update":{"fill":{"signal":"datum.value == 'buy orders' ? '#3a86c0' : '#d8705f'"},"fillOpacity":{"value":1}}}}}}}}
],
"resolve":{"scale":{"x":"independent","y":"independent","color":"independent","fill":"independent","stroke":"independent"}}
}
